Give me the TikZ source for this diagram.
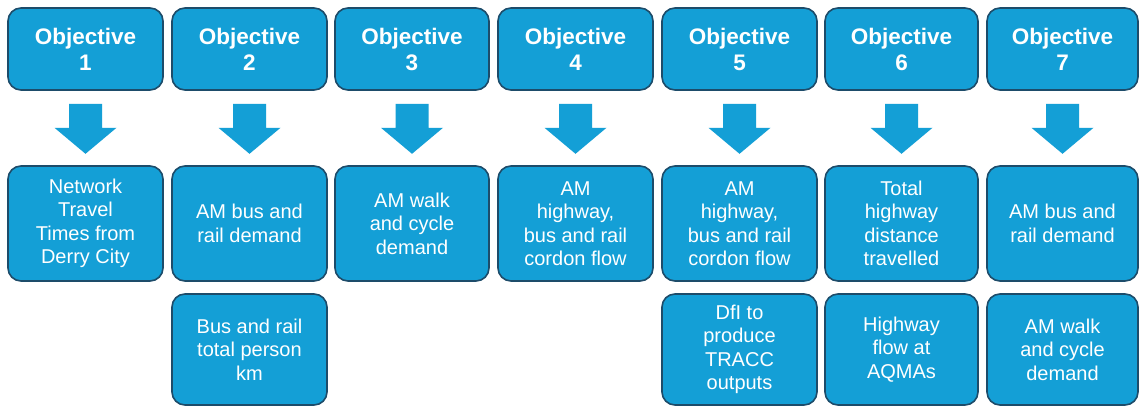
\documentclass[tikz,border=0pt]{standalone}
\usepackage{fontspec}
\setmainfont{Liberation Sans}
\usetikzlibrary{calc}
\definecolor{boxfill}{HTML}{149FD6}
\definecolor{boxline}{HTML}{1D4C6A}
\tikzset{
  basebox/.style={draw=boxline, fill=boxfill, line width=1.6pt, rounded corners=13pt,
    text=white, align=center, inner sep=0pt},
  objbox/.style={basebox, minimum height=82, font=\bfseries\fontsize{22.5}{26}\selectfont},
  resbox/.style={basebox, font=\fontsize{20}{23.5}\selectfont},
  rowone/.style={resbox, minimum height=115},
  rowtwo/.style={resbox, minimum height=111},
}
\newcommand\blkarrow[1]{%
  \fill[boxfill] ($(#1.south)+(-16.5,13)$) -- ($(#1.south)+(16.5,13)$) --
    ($(#1.south)+(16.5,37)$) -- ($(#1.south)+(31,37)$) -- ($(#1.south)+(0,63)$) --
    ($(#1.south)+(-31,37)$) -- ($(#1.south)+(-16.5,37)$) -- cycle;}
\begin{document}
\begin{tikzpicture}[x=1pt,y=-1pt]
\useasboundingbox (0,0) rectangle (1140,407);
\fill[white] (0,0) rectangle (1140,407);
% top row
\node[objbox, minimum width=155] (o1) at (85.5,49) {Objective\\1};
\node[objbox, minimum width=155] (o2) at (249.5,49) {Objective\\2};
\node[objbox, minimum width=154] (o3) at (412,49) {Objective\\3};
\node[objbox, minimum width=155] (o4) at (575.5,49) {Objective\\4};
\node[objbox, minimum width=155] (o5) at (739.5,49) {Objective\\5};
\node[objbox, minimum width=153] (o6) at (901.5,49) {Objective\\6};
\node[objbox, minimum width=151] (o7) at (1062.5,49) {Objective\\7};
% first result row
\node[rowone, minimum width=155] (a1) at (85.5,223.5) {Network\\Travel\\Times from\\Derry City};
\node[rowone, minimum width=155] (a2) at (249.5,223.5) {AM bus and\\rail demand};
\node[rowone, minimum width=154] (a3) at (412,223.5) {AM walk\\and cycle\\demand};
\node[rowone, minimum width=155] (a4) at (575.5,223.5) {AM\\highway,\\bus and rail\\cordon flow};
\node[rowone, minimum width=155] (a5) at (739.5,223.5) {AM\\highway,\\bus and rail\\cordon flow};
\node[rowone, minimum width=153] (a6) at (901.5,223.5) {Total\\highway\\distance\\travelled};
\node[rowone, minimum width=151] (a7) at (1062.5,223.5) {AM bus and\\rail demand};
% second result row
\node[rowtwo, minimum width=155] (b2) at (249.5,349.5) {Bus and rail\\total person\\km};
\node[rowtwo, minimum width=155] (b5) at (739.5,349.5) {DfI to\\produce\\TRACC\\outputs};
\node[rowtwo, minimum width=153] (b6) at (901.5,349.5) {Highway\\flow at\\AQMAs};
\node[rowtwo, minimum width=151] (b7) at (1062.5,349.5) {AM walk\\and cycle\\demand};
% block arrows
\blkarrow{o1}\blkarrow{o2}\blkarrow{o3}\blkarrow{o4}\blkarrow{o5}\blkarrow{o6}\blkarrow{o7}
\end{tikzpicture}
\end{document}
